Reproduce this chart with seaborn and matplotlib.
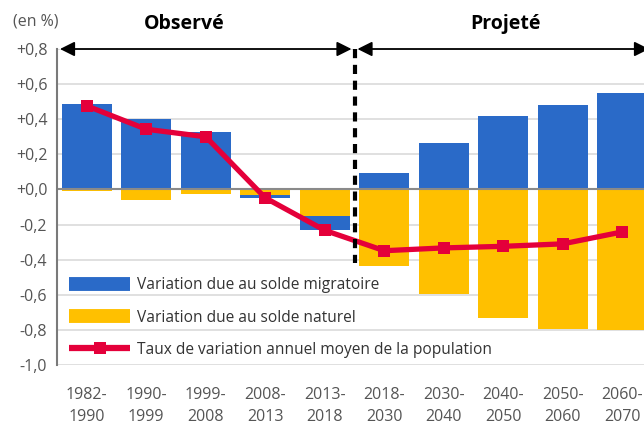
import numpy as np
import pandas as pd
import matplotlib
matplotlib.use("Agg")
import matplotlib.pyplot as plt
from matplotlib.lines import Line2D
import seaborn as sns

# ---- data ----
periods = ["1982-\n1990", "1990-\n1999", "1999-\n2008", "2008-\n2013", "2013-\n2018",
           "2018-\n2030", "2030-\n2040", "2040-\n2050", "2050-\n2060", "2060-\n2070"]
solde_migratoire = [0.486, 0.400, 0.327, -0.017, -0.081, 0.091, 0.263, 0.417, 0.480, 0.549]
solde_naturel = [-0.010, -0.061, -0.027, -0.033, -0.152, -0.438, -0.596, -0.735, -0.794, -0.800]
taux_variation = [0.476, 0.343, 0.300, -0.048, -0.233, -0.349, -0.333, -0.324, -0.310, -0.242]
yticks = [0.8, 0.6, 0.4, 0.2, 0.0, -0.2, -0.4, -0.6, -0.8, -1.0]
ytick_labels = ["+0,8", "+0,6", "+0,4", "+0,2", "+0,0", "-0,2", "-0,4", "-0,6", "-0,8", "-1,0"]
legend_labels = ["Variation due au solde migratoire", "Variation due au solde naturel",
                 "Taux de variation annuel moyen de la population"]

BLUE = "#2a6ac8"
YELLOW = "#ffc000"
RED = "#e4003a"
GRAY_TXT = "#555555"

sns.set_theme(style="white")
plt.rcParams["font.family"] = ["Open Sans", "DejaVu Sans"]

# extent of the migratory bar when stacked below a negative natural balance
mig = np.array(solde_migratoire)
nat = np.array(solde_naturel)
mig_extent = np.where((mig < 0) & (nat < 0), mig + nat, mig)

df = pd.DataFrame({"periode": periods, "mig": mig_extent, "nat": nat, "taux": taux_variation})

fig = plt.figure(figsize=(6.44, 4.28), dpi=100)
ax = fig.add_axes([57 / 644, 1 - 365 / 428, 595 / 644, 316 / 428])

for y in yticks:
    ax.axhline(y, color="#dadada", lw=1.2, zorder=0)

sns.barplot(data=df, x="periode", y="mig", color=BLUE, width=0.84, saturation=1,
            linewidth=0, ax=ax, zorder=2)
sns.barplot(data=df, x="periode", y="nat", color=YELLOW, width=0.84, saturation=1,
            linewidth=0, ax=ax, zorder=2.1)
ax.axhline(0, color="#8a8a8a", lw=1.5, zorder=2.5)

sns.lineplot(x=np.arange(len(periods)), y=taux_variation, color=RED, lw=3.8,
             marker="s", markersize=9, markeredgewidth=0, ax=ax, zorder=4)

ax.set_xlim(-0.5, len(periods) - 0.5)
ax.set_ylim(-1.0, 0.8)
ax.set_yticks(yticks)
ax.set_yticklabels(ytick_labels)
ax.set_xlabel("")
ax.set_ylabel("")
ax.tick_params(axis="y", length=0, pad=7, labelsize=11.5, labelcolor=GRAY_TXT)
ax.tick_params(axis="x", length=0, pad=16, labelsize=11.5, labelcolor=GRAY_TXT)
for lab in ax.get_xticklabels():
    lab.set_linespacing(1.45)
for s in ["top", "right", "bottom"]:
    ax.spines[s].set_visible(False)
ax.spines["left"].set_color("#7a7a7a")
ax.spines["left"].set_linewidth(1.5)

# separation observed / projected
ax.plot([4.5, 4.5], [0.8, -0.42], color="black", lw=3, ls=(0, (2.2, 1.6)), zorder=5,
        clip_on=False)
arrow_kw = dict(arrowstyle="<|-|>", color="black", lw=1.3, mutation_scale=22,
                shrinkA=0, shrinkB=0)
ax.annotate("", xy=(-0.45, 0.8), xytext=(4.45, 0.8), arrowprops=arrow_kw,
            annotation_clip=False)
ax.annotate("", xy=(4.55, 0.8), xytext=(9.45, 0.8), arrowprops=arrow_kw,
            annotation_clip=False)

fig.text(36 / 644, 1 - 21 / 428, "(en %)", ha="center", va="center", fontsize=11.5,
         color=GRAY_TXT)
fig.text(184 / 644, 1 - 24 / 428, "Observé", ha="center", va="center", fontsize=14,
         fontweight="bold", color="black")
fig.text(505 / 644, 1 - 24 / 428, "Projeté", ha="center", va="center", fontsize=14,
         fontweight="bold", color="black")

handles = [Line2D([], [], color=BLUE, lw=10, solid_capstyle="butt"),
           Line2D([], [], color=YELLOW, lw=10, solid_capstyle="butt"),
           Line2D([], [], color=RED, lw=4.5, marker="s", markersize=9,
                  markeredgewidth=0, solid_capstyle="butt")]
leg = ax.legend(handles, legend_labels, loc="lower left", bbox_to_anchor=(0.0, -0.017),
                frameon=False, fontsize=11.2, handlelength=3.9, handletextpad=0.45,
                labelspacing=1.05, labelcolor="#333333", borderaxespad=0.4)
leg.set_zorder(6)

fig.savefig("out.png", dpi=100)
